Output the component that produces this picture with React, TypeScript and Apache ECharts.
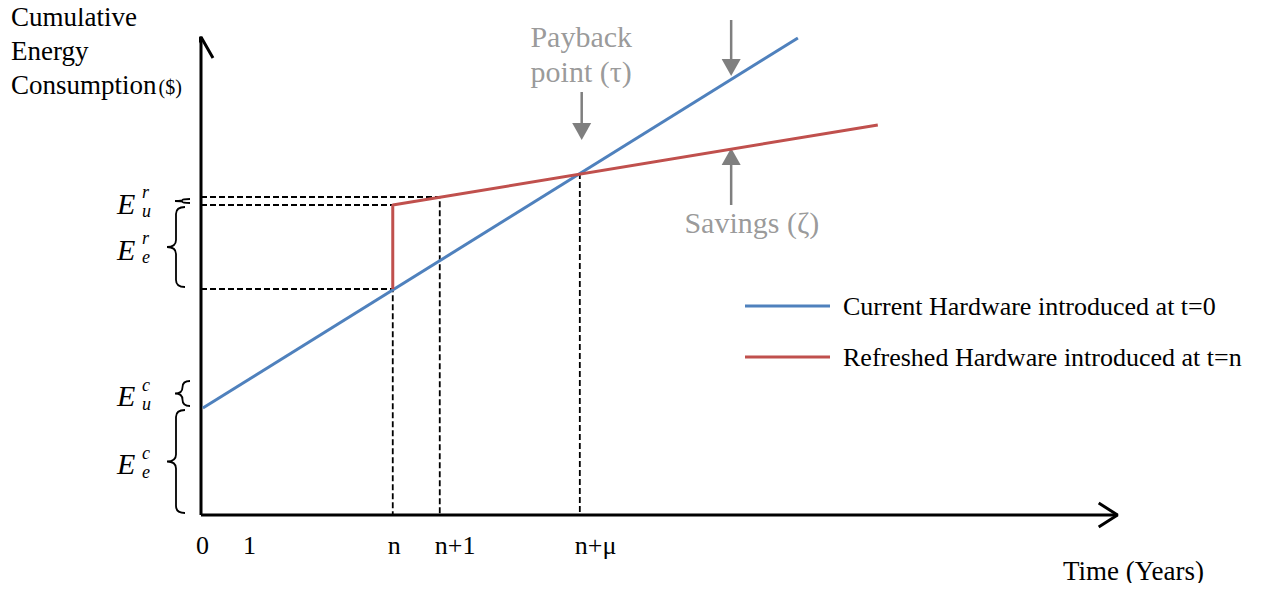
import React, { useEffect, useRef } from "react";
import * as echarts from "echarts";

// ---- data (x in years-ish units, y in cost units) ----
const tickValues = [0, 1, 4.08, 5.08, 8.06];
const tickNames = ["0", "1", "n", "n+1", "n+\u03bc"];

const currentHW = [
  [0.04, 10.7],
  [12.7, 47.7],
];
const refreshedHW = [
  [4.08, 22.6],
  [4.08, 31.0],
  [14.4, 39.0],
];

const guideA = [
  [0, 31.8],
  [5.08, 31.8],
  [5.08, 0],
];
const guideB = [
  [0, 31.0],
  [4.08, 31.0],
];
const guideC = [
  [0, 22.6],
  [4.08, 22.6],
  [4.08, 0],
];
const guideD = [
  [8.06, 34.2],
  [8.06, 0],
];

const yAxisLineData = [
  [0, 0],
  [0, 47.8],
];
const xAxisLineData = [
  [0, 0],
  [19.5, 0],
];
const yChevron = [
  [-0.255, 45.7],
  [0, 47.8],
  [0.255, 45.7],
];
const xChevron = [
  [19.1, 1.2],
  [19.5, 0],
  [19.1, -1.2],
];

// brace ranges (low, high) and their math labels
const braceLow = [0, 10.7, 22.6, 31.0];
const braceHigh = [10.7, 13.6, 31.0, 31.8];
const braceSup = ["c", "c", "r", "r"];
const braceSub = ["e", "u", "e", "u"];

// gray pointer arrows: [start, tip-center]
const paybackArrow = [
  [8.1, 42.3],
  [8.1, 38.35],
];
const upperArrow = [
  [11.28, 49.5],
  [11.28, 44.75],
];
const lowerArrow = [
  [11.28, 31.0],
  [11.28, 35.85],
];

const annotations = [
  { pos: [8.09, 46.1], text: "Payback\npoint (\u03c4)" },
  { pos: [11.72, 29.3], text: "Savings (\u03b6)" },
];

const seriesNames = [
  "Current Hardware introduced at t=0",
  "Refreshed Hardware introduced at t=n",
];

const SERIF = "'Liberation Serif', 'Times New Roman', serif";
const BLUE = "#4F81BD";
const RED = "#C0504D";
const GRAY = "#7f7f7f";

function blackLine(name: string, data: number[][], width: number, dashed = false): any {
  return {
    name,
    type: "line",
    data,
    symbol: "none",
    clip: false,
    silent: true,
    z: dashed ? 1 : 3,
    lineStyle: {
      color: "#000",
      width,
      type: dashed ? [6, 3] : "solid",
      cap: "butt",
    },
  };
}

function grayArrow(name: string, data: number[][], down: boolean): any {
  return {
    name,
    type: "line",
    clip: false,
    silent: true,
    z: 4,
    lineStyle: { color: GRAY, width: 2.5 },
    data: [
      { value: data[0], symbol: "none" },
      {
        value: data[1],
        symbol: "triangle",
        symbolSize: [19, 17],
        symbolRotate: down ? 180 : 0,
        itemStyle: { color: GRAY },
      },
    ],
  };
}

export default function App() {
  const ref = useRef<HTMLDivElement>(null);

  useEffect(() => {
    if (!ref.current) return;
    const chart = echarts.init(ref.current, undefined, { renderer: "svg" });

    const option: any = {
      animation: false,
      backgroundColor: "#fff",
      grid: { left: 201, top: 15, width: 940, height: 500, containLabel: false },
      xAxis: {
        type: "value",
        min: 0,
        max: 20,
        axisLine: { show: false },
        axisTick: { show: false },
        splitLine: { show: false },
        axisLabel: {
          customValues: tickValues,
          formatter: (v: number) => {
            const i = tickValues.indexOf(v);
            return i >= 0 ? tickNames[i] : "";
          },
          align: "left",
          padding: [0, 0, 0, -5],
          margin: 17,
          color: "#000",
          fontSize: 26,
          fontFamily: SERIF,
        },
      },
      yAxis: {
        type: "value",
        min: 0,
        max: 50,
        show: false,
      },
      legend: {
        data: seriesNames,
        orient: "vertical",
        left: 745,
        top: 291,
        padding: 0,
        itemGap: 21,
        itemWidth: 85,
        itemHeight: 3,
        icon: "rect",
        textStyle: {
          color: "#000",
          fontSize: 26,
          fontFamily: SERIF,
          lineHeight: 30,
          padding: [0, 0, 0, 8],
        },
      },
      graphic: [
        {
          type: "text",
          left: 11,
          top: 0,
          style: {
            text: "Cumulative\nEnergy\nConsumption{s|($)}",
            font: `27px ${SERIF}`,
            fill: "#000",
            lineHeight: 34,
            rich: {
              s: { fontSize: 20, fontFamily: SERIF, fill: "#000", lineHeight: 34, padding: [4, 0, 0, 2] },
            },
          },
        },
        {
          type: "text",
          left: 1063,
          top: 557,
          style: {
            text: "Time (Years)",
            font: `27px ${SERIF}`,
            fill: "#000",
          },
        },
      ],
      series: [
        blackLine("guideA", guideA, 1.8, true),
        blackLine("guideB", guideB, 1.8, true),
        blackLine("guideC", guideC, 1.8, true),
        blackLine("guideD", guideD, 1.8, true),
        blackLine("yAxisLine", yAxisLineData, 3),
        blackLine("xAxisLine", xAxisLineData, 3),
        blackLine("yChevron", yChevron, 3),
        blackLine("xChevron", xChevron, 3),
        {
          name: seriesNames[0],
          type: "line",
          data: currentHW,
          symbol: "none",
          clip: false,
          z: 5,
          color: BLUE,
          lineStyle: { color: BLUE, width: 3 },
        },
        {
          name: seriesNames[1],
          type: "line",
          data: refreshedHW,
          symbol: "none",
          clip: false,
          z: 5,
          color: RED,
          lineStyle: { color: RED, width: 3 },
        },
        grayArrow("paybackArrow", paybackArrow, true),
        grayArrow("upperArrow", upperArrow, true),
        grayArrow("lowerArrow", lowerArrow, false),
        {
          name: "annotations",
          type: "scatter",
          symbolSize: 0,
          silent: true,
          data: annotations.map((a) => ({ value: a.pos, name: a.text })),
          label: {
            show: true,
            position: "inside",
            formatter: (p: any) => p.name,
            color: GRAY,
            fontSize: 30,
            fontFamily: SERIF,
            lineHeight: 35,
            align: "center",
            verticalAlign: "middle",
          },
        },
        {
          name: "braces",
          type: "custom",
          silent: true,
          clip: false,
          encode: { y: [0, 1] },
          data: braceLow.map((lo, i) => [lo, braceHigh[i]]),
          renderItem: (params: any, api: any) => {
            const i = params.dataIndex;
            const lo = api.value(0);
            const hi = api.value(1);
            const pTop = api.coord([0, hi]);
            const pBot = api.coord([0, lo]);
            const ax = pTop[0];
            const y1 = pTop[1] + 2;
            const y2 = pBot[1] - 2;
            const h = y2 - y1;
            const big = h > 40;
            const xe = ax - (big ? 16 : 11);
            const xt = xe - (big ? 18 : 15);
            const xm = (xe + xt) / 2;
            const r = Math.min(7, h / 4);
            const ym = (y1 + y2) / 2;
            const d =
              `M${xe} ${y1} Q${xm} ${y1} ${xm} ${y1 + r} L${xm} ${ym - r} ` +
              `Q${xm} ${ym} ${xt} ${ym} Q${xm} ${ym} ${xm} ${ym + r} ` +
              `L${xm} ${y2 - r} Q${xm} ${y2} ${xe} ${y2}`;
            const my = ym + 2;
            return {
              type: "group",
              children: [
                {
                  type: "path",
                  shape: { pathData: d },
                  style: { stroke: "#000", lineWidth: 1.8, fill: "none" },
                },
                {
                  type: "text",
                  x: ax - 84,
                  y: my,
                  style: {
                    text: "E",
                    font: `italic 30px ${SERIF}`,
                    fill: "#000",
                    align: "left",
                    verticalAlign: "middle",
                  },
                },
                {
                  type: "text",
                  x: ax - 59,
                  y: my - 11,
                  style: {
                    text: braceSup[i],
                    font: `italic 18px ${SERIF}`,
                    fill: "#000",
                    align: "left",
                    verticalAlign: "middle",
                  },
                },
                {
                  type: "text",
                  x: ax - 59,
                  y: my + 8,
                  style: {
                    text: braceSub[i],
                    font: `italic 18px ${SERIF}`,
                    fill: "#000",
                    align: "left",
                    verticalAlign: "middle",
                  },
                },
              ],
            };
          },
        },
      ],
    };

    chart.setOption(option);
    return () => chart.dispose();
  }, []);

  return <div ref={ref} style={{ width: 1275, height: 591, margin: -8 }} />;
}
